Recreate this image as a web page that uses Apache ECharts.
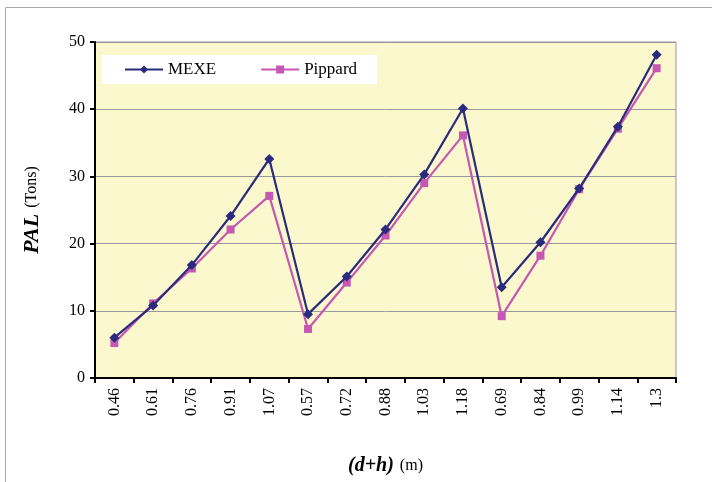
<!DOCTYPE html>
<html>
<head>
<meta charset="utf-8">
<script src="https://cdn.jsdelivr.net/npm/echarts@6/dist/echarts.min.js"></script>
<style>
  html, body { margin: 0; padding: 0; background: #fff; }
  #chart { width: 712px; height: 482px; }
</style>
</head>
<body>
<div id="chart"></div>
<script>
// x categories (d+h) in m
const categories = ['0.46', '0.61', '0.76', '0.91', '1.07', '0.57', '0.72', '0.88', '1.03', '1.18', '0.69', '0.84', '0.99', '1.14', '1.3'];
// PAL values (Tons)
const mexe = [6.0, 10.8, 16.8, 24.1, 32.6, 9.5, 15.1, 22.1, 30.3, 40.1, 13.5, 20.2, 28.2, 37.4, 48.1];
const pippard = [5.2, 11.1, 16.3, 22.1, 27.1, 7.3, 14.2, 21.2, 29.0, 36.1, 9.2, 18.2, 28.1, 37.1, 46.1];

const chart = echarts.init(document.getElementById('chart'));
const serif = 'Liberation Serif';

const option = {
    backgroundColor: '#fff',
    animation: false,
    textStyle: { fontFamily: serif },
    graphic: [{
        type: 'rect',
        shape: { x: 5.5, y: 7.5, width: 720, height: 490 },
        style: { fill: 'none', stroke: '#aaa', lineWidth: 1 },
        silent: true
    }],
    grid: {
        left: 95, right: 36, top: 42, bottom: 104,
        outerBoundsMode: 'none',
        containLabel: false,
        show: true,
        backgroundColor: '#FAF8CC',
        borderColor: '#999',
        borderWidth: 1
    },
    legend: {
        left: 102, top: 55,
        backgroundColor: '#fff',
        padding: [6, 20, 6, 22],
        itemGap: 44,
        itemWidth: 38, itemHeight: 10,
        textStyle: { fontFamily: serif, fontSize: 17, color: '#000' },
        data: ['MEXE', 'Pippard']
    },
    xAxis: {
        type: 'category',
        data: categories,
        boundaryGap: true,
        axisLine: { lineStyle: { color: '#000', width: 2 } },
        axisTick: { show: true, length: 5, lineStyle: { color: '#000', width: 2 } },
        axisLabel: { rotate: 90, fontFamily: serif, fontSize: 16, color: '#000', margin: 10, interval: 0 },
        name: '{b|(d+h)}  {n|(m)}',
        nameLocation: 'middle',
        nameGap: 78,
        nameTextStyle: {
            rich: {
                b: { fontFamily: serif, fontSize: 20, fontWeight: 'bold', fontStyle: 'italic', color: '#000' },
                n: { fontFamily: serif, fontSize: 16, color: '#000' }
            }
        }
    },
    yAxis: {
        type: 'value',
        min: 0, max: 50, interval: 10,
        axisLine: { show: true, lineStyle: { color: '#000', width: 2 } },
        axisTick: { show: true, length: 5, lineStyle: { color: '#000', width: 2 } },
        axisLabel: { fontFamily: serif, fontSize: 16, color: '#000', margin: 10 },
        splitLine: { show: true, lineStyle: { color: '#999', width: 1 } },
        name: '{b|PAL}  {n|(Tons)}',
        nameLocation: 'middle',
        nameRotate: 90,
        nameGap: 52,
        nameTextStyle: {
            rich: {
                b: { fontFamily: serif, fontSize: 22, fontWeight: 'bold', fontStyle: 'italic', color: '#000' },
                n: { fontFamily: serif, fontSize: 16, color: '#000' }
            }
        }
    },
    series: [{
        name: 'MEXE',
        type: 'line',
        data: mexe,
        color: '#2B2B7E',
        symbol: 'diamond',
        symbolSize: 10,
        lineStyle: { width: 2.2, color: '#2B2B7E' },
        itemStyle: { color: '#2B2B7E' },
        z: 3
    }, {
        name: 'Pippard',
        type: 'line',
        data: pippard,
        color: '#C658B4',
        symbol: 'rect',
        symbolSize: 8,
        lineStyle: { width: 2.2, color: '#C658B4' },
        itemStyle: { color: '#C658B4' },
        z: 2
    }]
};

chart.setOption(option);
</script>
</body>
</html>
